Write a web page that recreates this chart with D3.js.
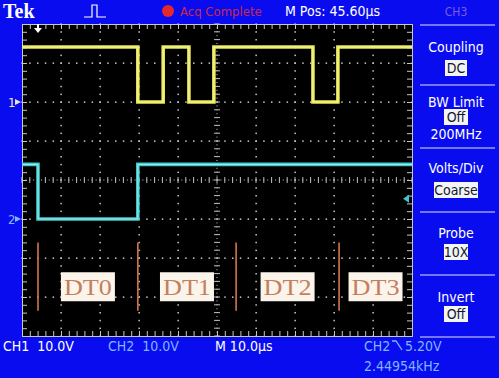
<!DOCTYPE html>
<html>
<head>
<meta charset="utf-8">
<script src="https://cdn.jsdelivr.net/npm/d3@7"></script>
<style>
  html, body { margin: 0; padding: 0; background: #0a0cf0; }
  svg { display: block; }
  text { font-family: "Liberation Sans Narrow", "DejaVu Sans Condensed", "Liberation Sans", sans-serif; }
</style>
</head>
<body>
<div id="scope"></div>
<script>
// trace data, time in us from left of screen, volts
const ch1Time = [0, 29.7, 36.2, 42.8, 49.2, 74.6, 81.0, 100];
const ch1Volts = [14.1, 0, 14.1, 0, 14.1, 0, 14.1, 14.1];
const ch2Time = [0, 4.1, 29.7, 100];
const ch2Volts = [14.0, 0, 14.0, 14.0];

// DT marker lines (us) and their labels
const dtTimes = [4.1, 29.7, 54.9, 81.3];
const dtLabels = ['DT0', 'DT1', 'DT2', 'DT3'];

// channel settings
const voltsPerDiv = 10;
const ch1Ground = 2;   // divisions above centre
const ch2Ground = -1;
const trigLevel = 5.2;

// side menu
const menuTitles = ['Coupling', 'BW Limit', 'Volts/Div', 'Probe', 'Invert'];
const menuValues = ['DC', 'Off', 'Coarse', '10X', 'Off'];

const W = 499, H = 378;
const screen = { left: 22, top: 24, right: 412, bottom: 336 };

const svg = d3.select('#scope').append('svg')
  .attr('width', W).attr('height', H);

svg.append('rect').attr('width', W).attr('height', H).attr('fill', '#0a0cf0');

// 10 x 8 divisions
const x = d3.scaleLinear().domain([0, 100]).range([screen.left, screen.right]);
const y = d3.scaleLinear().domain([-4, 4]).range([screen.bottom, screen.top]);

svg.append('rect')
  .attr('x', screen.left).attr('y', screen.top)
  .attr('width', screen.right - screen.left)
  .attr('height', screen.bottom - screen.top)
  .attr('fill', '#000');

const grid = svg.append('g').attr('fill', '#c8c8c8');
const minorX = d3.range(0, 100.01, 2);
const minorY = d3.range(-4, 4.01, 0.2);

// dotted graticule
d3.range(10, 100, 10).filter(d => d !== 50).forEach(t => {
  grid.selectAll(null).data(minorY).enter().append('rect')
    .attr('x', x(t) - 0.6).attr('y', d => y(d) - 0.6)
    .attr('width', 1.5).attr('height', 1.5);
});
d3.range(-3, 4, 1).filter(d => d !== 0).forEach(v => {
  grid.selectAll(null).data(minorX).enter().append('rect')
    .attr('x', d => x(d) - 0.6).attr('y', y(v) - 0.6)
    .attr('width', 1.5).attr('height', 1.5);
});

// centre cross with minor ticks
const cross = svg.append('g').attr('stroke', '#bdbdbd').attr('stroke-width', 1);
cross.selectAll(null).data(minorX).enter().append('line')
  .attr('x1', d => x(d)).attr('x2', d => x(d))
  .attr('y1', y(0) - 3).attr('y2', y(0) + 3);
cross.selectAll(null).data(minorY).enter().append('line')
  .attr('y1', d => y(d)).attr('y2', d => y(d))
  .attr('x1', x(50) - 3).attr('x2', x(50) + 3);
grid.selectAll(null).data(d3.range(0, 100.01, 1)).enter().append('rect')
  .attr('x', d => x(d) - 0.5).attr('y', y(0) - 0.5).attr('width', 1).attr('height', 1);
grid.selectAll(null).data(d3.range(-4, 4.01, 0.1)).enter().append('rect')
  .attr('x', x(50) - 0.5).attr('y', d => y(d) - 0.5).attr('width', 1).attr('height', 1);

// border ticks
function edge(axis, tr) {
  const g = svg.append('g').attr('transform', tr)
    .call(axis.tickSize(-5).tickFormat(''));
  g.selectAll('path,line').attr('stroke', '#c8c8c8');
}
edge(d3.axisTop(x).tickValues(minorX), `translate(0,${screen.top})`);
edge(d3.axisBottom(x).tickValues(minorX), `translate(0,${screen.bottom})`);
edge(d3.axisLeft(y).tickValues(minorY), `translate(${screen.left},0)`);
edge(d3.axisRight(y).tickValues(minorY), `translate(${screen.right},0)`);

// traces
const yv = (v, gnd) => y(gnd + v / voltsPerDiv);
const step = gnd => d3.line()
  .x(d => x(d[0])).y(d => yv(d[1], gnd))
  .curve(d3.curveStepAfter);

svg.append('path')
  .datum(ch1Time.map((t, i) => [t, ch1Volts[i]]))
  .attr('d', step(ch1Ground))
  .attr('fill', 'none').attr('stroke', '#e8e84a').attr('stroke-width', 3.6)
  .attr('stroke-linejoin', 'miter');
svg.append('path')
  .datum(ch1Time.map((t, i) => [t, ch1Volts[i]]))
  .attr('d', step(ch1Ground))
  .attr('fill', 'none').attr('stroke', '#f4f4b0').attr('stroke-width', 1);

svg.append('path')
  .datum(ch2Time.map((t, i) => [t, ch2Volts[i]]))
  .attr('d', step(ch2Ground))
  .attr('fill', 'none').attr('stroke', '#3cc8cc').attr('stroke-width', 3.6);
svg.append('path')
  .datum(ch2Time.map((t, i) => [t, ch2Volts[i]]))
  .attr('d', step(ch2Ground))
  .attr('fill', 'none').attr('stroke', '#a8f0f0').attr('stroke-width', 1);

// DT markers
const mTop = -1.6, mBottom = -3.35;
svg.append('g').selectAll('line').data(dtTimes).enter().append('line')
  .attr('x1', d => x(d)).attr('x2', d => x(d))
  .attr('y1', y(mTop)).attr('y2', y(mBottom))
  .attr('stroke', '#d2764a').attr('stroke-width', 1.6);

const ends = dtTimes.slice(1).concat([100]);
const lab = svg.append('g').selectAll('g').data(dtLabels).enter().append('g')
  .attr('transform', (d, i) => `translate(${(x(dtTimes[i]) + x(ends[i])) / 2},${y(-2.75)})`);
lab.append('rect')
  .attr('x', -27).attr('y', -15).attr('width', 54).attr('height', 29)
  .attr('fill', '#fbf4ea');
lab.append('text')
  .attr('text-anchor', 'middle').attr('y', 8)
  .style('font-family', '"Liberation Serif", "DejaVu Serif", serif')
  .attr('font-size', 23).attr('fill', '#c57f60')
  .attr('textLength', 48).attr('lengthAdjust', 'spacingAndGlyphs')
  .text(d => d);

// ground markers
[[ch1Ground, '1', '#e8e8d0'], [ch2Ground, '2', '#7fb6ff']].forEach(([g, s, c]) => {
  svg.append('text').attr('x', 8).attr('y', y(g) + 5)
    .attr('font-size', 13).attr('fill', c).text(s);
  svg.append('path')
    .attr('d', `M${15},${y(g) - 3}L${21},${y(g)}L${15},${y(g) + 3}Z`)
    .attr('fill', c);
});

// trigger position and level
const tx = x(dtTimes[0]);
svg.append('path')
  .attr('d', `M${tx - 1},${screen.top}h2v4h3l-4,5l-4,-5h3z`)
  .attr('fill', '#fff');
const ty = yv(trigLevel, ch2Ground);
svg.append('path')
  .attr('d', `M${screen.right - 9},${ty}L${screen.right - 3},${ty - 4}L${screen.right - 3},${ty + 4}Z`)
  .attr('fill', '#3cc8cc');

// top bar
svg.append('text').attr('x', 3).attr('y', 18)
  .style('font-family', '"Liberation Serif", "DejaVu Serif", serif')
  .attr('font-weight', 'bold').attr('font-size', 20).attr('fill', '#fff').text('Tek');
svg.append('path')
  .attr('d', 'M84,17h8v-12h5v12h9')
  .attr('fill', 'none').attr('stroke', '#fff').attr('stroke-width', 1.2);
svg.append('circle').attr('cx', 168).attr('cy', 11).attr('r', 6).attr('fill', '#e82828');
svg.append('text').attr('x', 180).attr('y', 16)
  .attr('font-size', 13).attr('fill', '#c8284a').text('Acq Complete');
svg.append('text').attr('x', 285).attr('y', 16)
  .attr('font-size', 14).attr('fill', '#fff').text('M Pos: 45.60\u00b5s');
svg.append('text').attr('x', 456).attr('y', 16).attr('text-anchor', 'middle')
  .attr('font-size', 12).attr('fill', '#7a5ee0').text('CH3');

// side menu
const panelX = 456;
const dividers = [25, 85, 148, 212, 275, 337];
svg.append('g').selectAll('line').data(dividers).enter().append('line')
  .attr('x1', 420).attr('x2', 495).attr('y1', d => d).attr('y2', d => d)
  .attr('stroke', '#e0e0ff').attr('stroke-width', 1.2);

const titleY = [52, 107, 173, 238, 302];
const valueY = [73, 122, 195, 257, 319];
const boxW = [22, 24, 44, 24, 24];
menuTitles.forEach((t, i) => {
  svg.append('text').attr('x', panelX).attr('y', titleY[i]).attr('text-anchor', 'middle')
    .attr('font-size', 14).attr('fill', '#fff').text(t);
  svg.append('rect')
    .attr('x', panelX - boxW[i] / 2).attr('y', valueY[i] - 13)
    .attr('width', boxW[i]).attr('height', 16).attr('fill', '#f4f4f4');
  svg.append('text').attr('x', panelX).attr('y', valueY[i]).attr('text-anchor', 'middle')
    .attr('font-size', 14).attr('fill', '#101830').text(menuValues[i]);
});
svg.append('text').attr('x', panelX).attr('y', 139).attr('text-anchor', 'middle')
  .attr('font-size', 14).attr('fill', '#fff').text('200MHz');

// bottom status
const status = [
  [3, 'CH1  10.0V', '#fff'],
  [108, 'CH2  10.0V', '#7fb6ff'],
  [215, 'M 10.0\u00b5s', '#fff']
];
status.forEach(([sx, s, c]) => {
  svg.append('text').attr('x', sx).attr('y', 351).attr('font-size', 14)
    .attr('fill', c).style('white-space', 'pre').text(s);
});
svg.append('text').attr('x', 364).attr('y', 351).attr('font-size', 14)
  .attr('fill', '#7fb6ff').text('CH2');
svg.append('path').attr('d', 'M392,341h4l6,9')
  .attr('fill', 'none').attr('stroke', '#7fb6ff').attr('stroke-width', 1.3);
svg.append('text').attr('x', 405).attr('y', 351).attr('font-size', 14)
  .attr('fill', '#7fb6ff').text('5.20V');
svg.append('text').attr('x', 364).attr('y', 371).attr('font-size', 14)
  .attr('fill', '#7fb6ff').text('2.44954kHz');
</script>
</body>
</html>
